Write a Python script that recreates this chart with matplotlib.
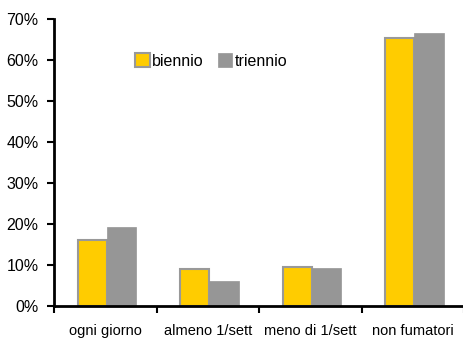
import matplotlib
matplotlib.use("Agg")
import matplotlib.pyplot as plt
import numpy as np

categories = ["ogni giorno", "almeno 1/sett", "meno di 1/sett", "non fumatori"]
biennio = [16.1, 9.2, 9.7, 65.4]
triennio = [19.4, 6.1, 9.4, 66.6]
yticks = [0, 10, 20, 30, 40, 50, 60, 70]

plt.rcParams["font.family"] = ["Liberation Sans", "DejaVu Sans"]

fig = plt.figure(figsize=(4.64, 3.39), dpi=100)
ax = fig.add_axes([0.1164, 0.0965, 0.8836, 0.8465])

x = np.arange(len(categories))
w = 0.285
offset = 0.015
ax.bar(x - w / 2 + offset, biennio, w, color="#FFCC00", edgecolor="#999999",
       linewidth=1.5, label="biennio", zorder=2)
ax.bar(x + w / 2 + offset, triennio, w, color="#969696", edgecolor="#969696",
       linewidth=0.5, label="triennio", zorder=2)

ax.set_xlim(-0.5, len(categories) - 0.5)
ax.set_ylim(0, 70)
ax.set_yticks(yticks)
ax.set_yticklabels([f"{v}%" for v in yticks])

ax.set_xticks(x)
ax.set_xticklabels(categories)
ax.set_xticks(np.arange(len(categories) + 1) - 0.5, minor=True)
ax.tick_params(axis="x", which="major", length=0, pad=13, labelsize=10.5)
ax.tick_params(axis="x", which="minor", length=5, width=1.5, direction="out")
ax.tick_params(axis="y", length=5, width=1.5, direction="out", labelsize=11.5, pad=6)

for side in ("top", "right"):
    ax.spines[side].set_visible(False)
for side in ("left", "bottom"):
    ax.spines[side].set_linewidth(2)

ax.legend(loc="center left", bbox_to_anchor=(0.163, 0.855), ncol=2, frameon=False,
          handlelength=0.9, handleheight=0.9, handletextpad=0.15,
          columnspacing=0.9, fontsize=11.5)

fig.savefig("out.png", dpi=100)
